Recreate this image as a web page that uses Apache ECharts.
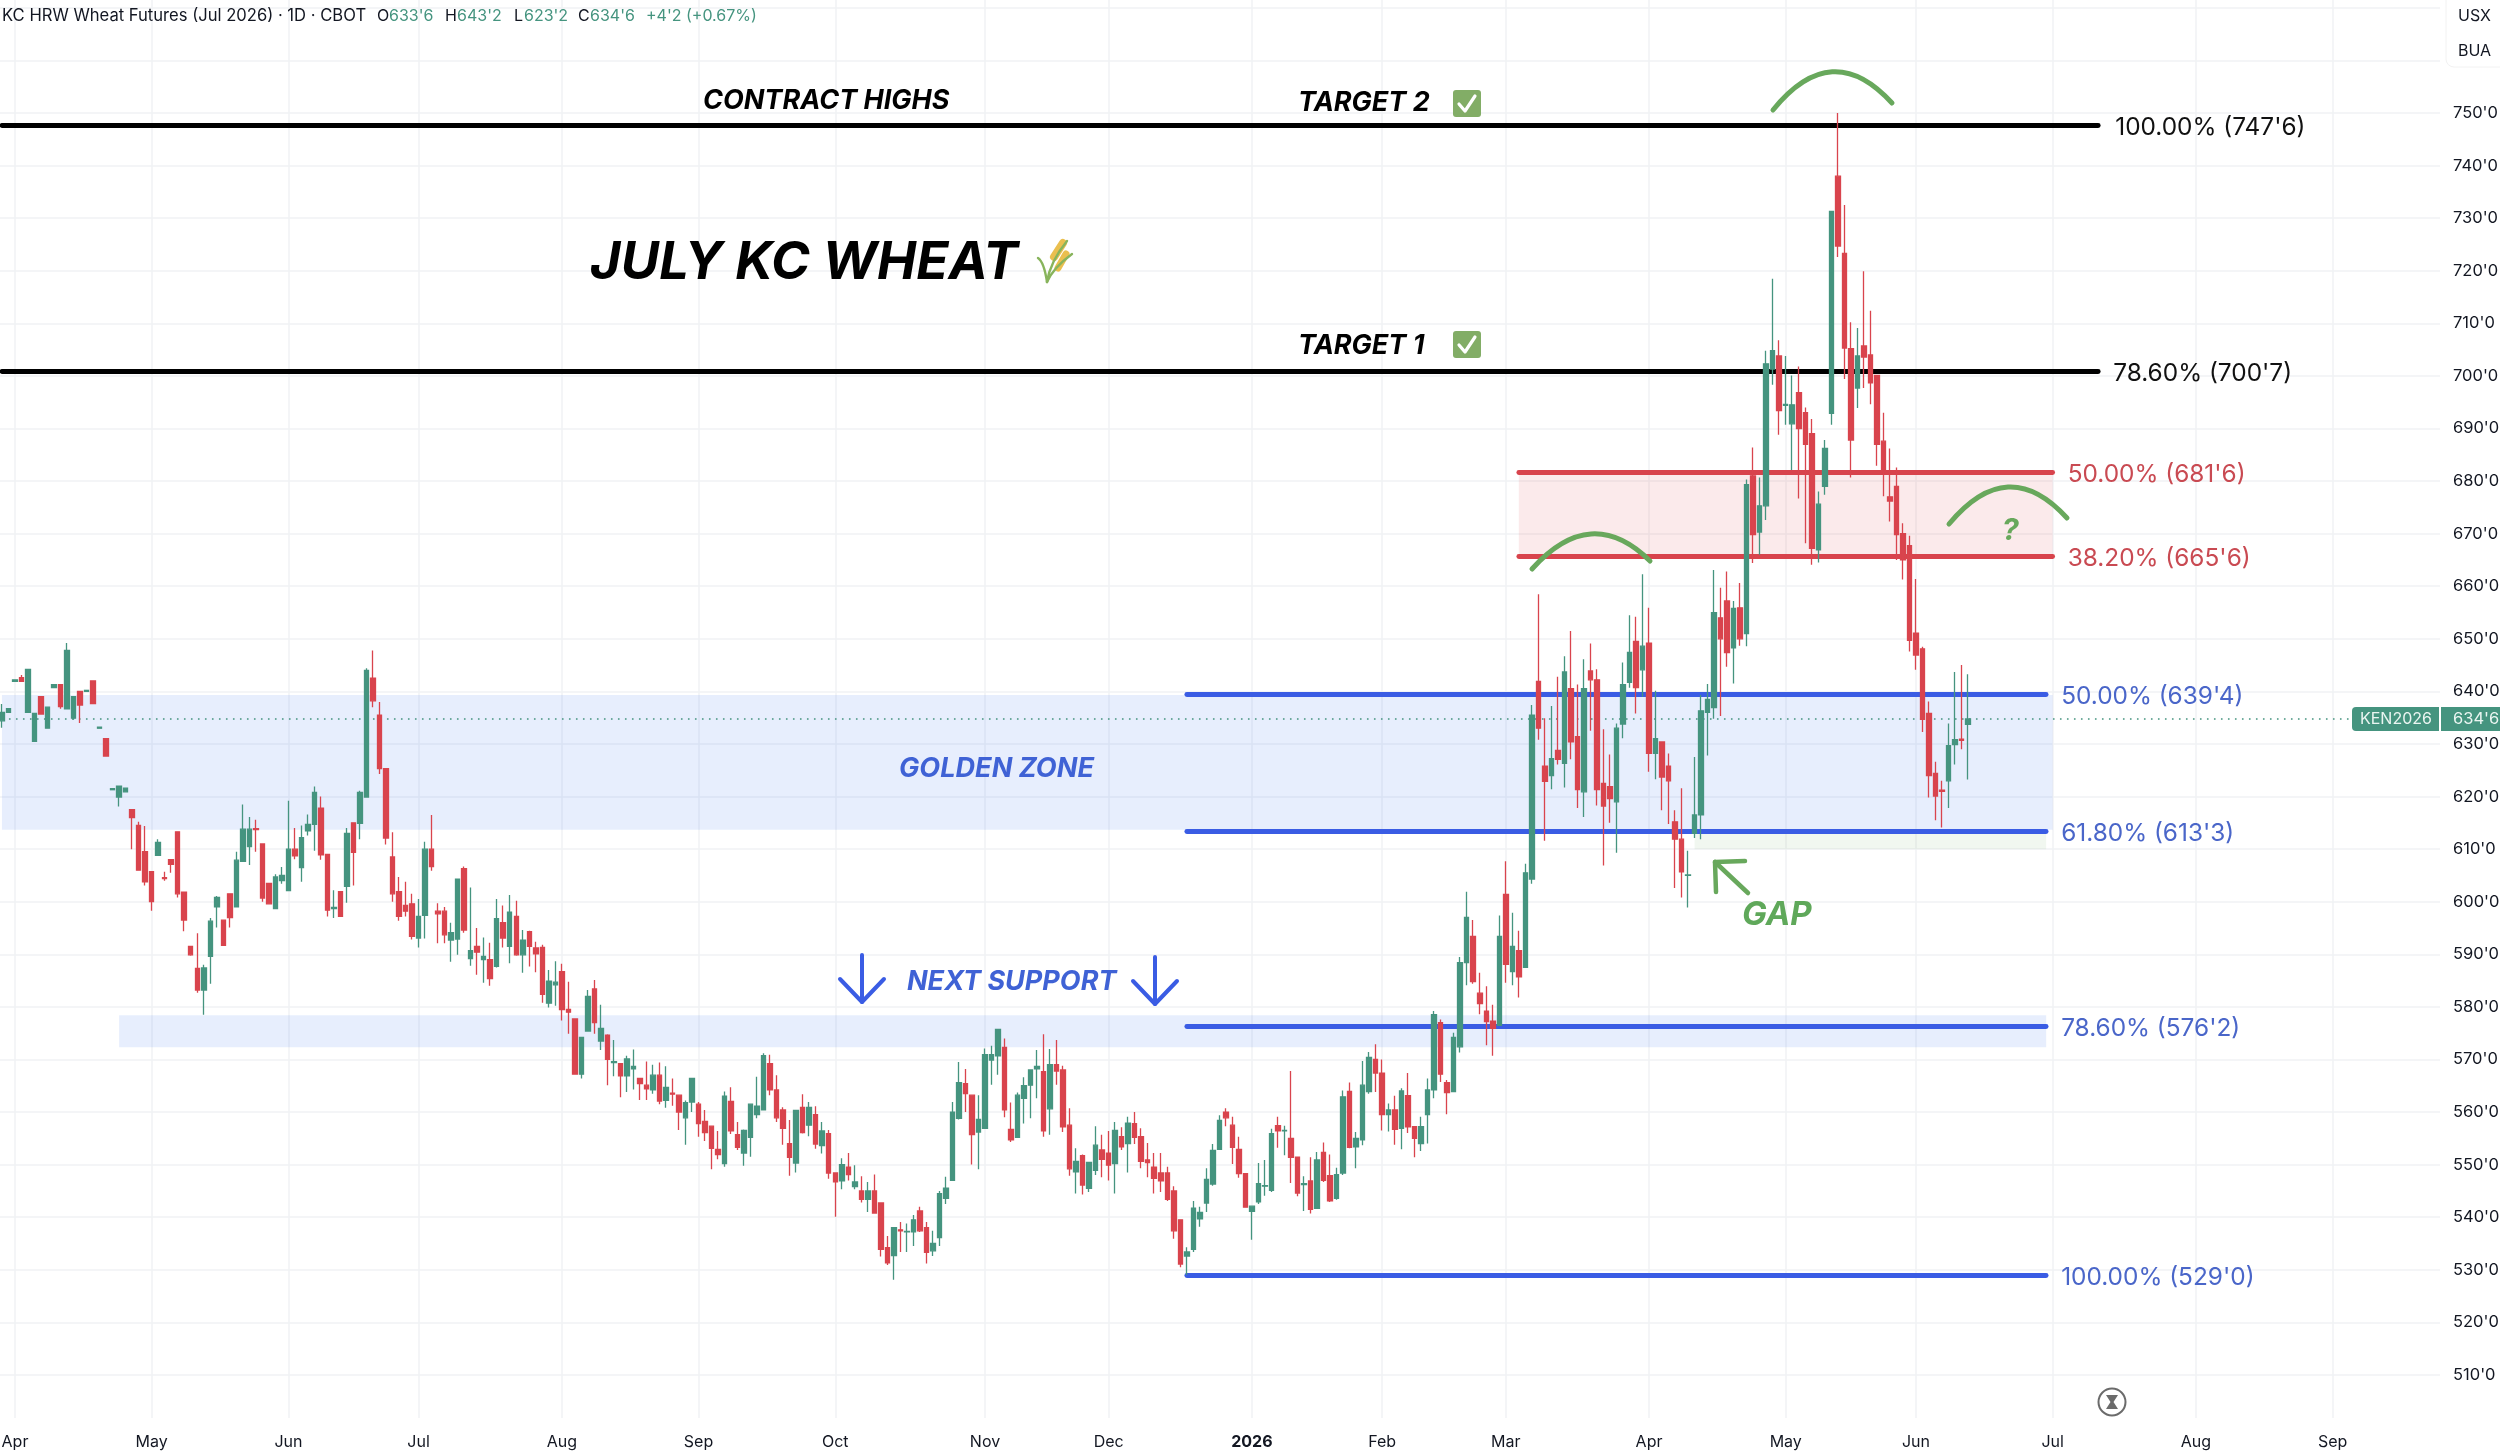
<!DOCTYPE html>
<html><head><meta charset="utf-8"><style>html,body{margin:0;padding:0;background:#fff}#c{width:2500px;height:1452px}</style>
<script src="https://cdn.jsdelivr.net/npm/echarts@6/dist/echarts.min.js"></script></head><body><div id="c"></div><script>
const opens=[634.4,636.0,641.9,642.6,636.0,630.5,639.0,633.0,640.7,641.3,
636.7,634.9,640.0,640.0,642.0,633.0,631.0,621.3,619.9,620.9,
617.5,614.5,609.5,605.7,608.8,604.6,608.0,613.3,601.8,591.5,
587.3,583.2,589.6,599.0,596.5,601.5,599.0,607.7,610.5,613.9,
611.0,603.5,598.7,604.0,602.1,610.0,606.5,613.5,614.7,617.8,
609.0,598.7,601.9,602.9,615.0,614.9,619.9,642.5,635.5,625.3,
608.5,601.9,599.3,599.6,593.1,597.4,610.0,598.2,598.2,592.7,
592.9,606.3,589.2,591.5,589.0,589.0,587.7,596.0,591.5,597.2,
589.9,594.3,591.2,591.3,580.7,584.2,586.7,579.5,577.7,567.2,
575.4,583.4,573.5,574.6,569.4,569.2,566.9,568.2,566.4,565.1,
564.2,567.0,562.2,563.6,563.2,558.9,561.9,561.5,558.2,557.3,
552.9,550.2,562.0,555.7,552.2,555.2,559.5,560.4,569.2,564.2,
560.4,554.0,550.3,560.9,557.5,559.5,553.6,555.9,548.4,546.9,
549.5,545.8,545.0,543.4,545.0,542.7,534.2,532.7,537.6,537.2,
537.2,541.2,538.0,533.6,536.1,543.6,547.0,558.8,565.4,563.2,
556.2,556.9,569.9,570.7,572.3,556.7,555.2,562.6,565.1,568.2,
567.7,560.6,569.0,568.0,557.5,548.6,551.7,545.5,548.9,552.8,
552.2,550.2,555.3,554.0,557.8,555.3,550.9,549.5,548.4,548.4,
545.0,539.5,532.6,533.9,539.7,542.7,546.3,552.9,560.0,557.5,
552.9,548.3,541.1,542.9,545.9,545.1,557.4,556.4,555.0,551.4,
546.2,546.9,541.7,552.3,547.9,543.6,548.4,563.9,553.4,554.7,
563.9,570.0,567.4,559.5,560.4,556.9,563.1,557.2,554.0,559.5,
564.2,577.0,565.6,563.9,572.4,588.4,593.4,582.6,579.2,577.3,
576.5,601.4,586.7,590.7,587.5,604.3,641.9,625.8,624.0,628.8,
626.3,640.5,631.4,620.9,643.9,642.2,622.5,621.9,619.0,633.8,
641.7,649.5,644.1,649.2,628.2,630.4,625.8,615.2,611.9,605.0,
613.0,616.5,636.0,636.9,654.0,657.2,648.3,655.9,651.0,681.0,
670.3,675.3,701.3,703.8,694.4,690.9,696.8,693.0,689.0,666.9,
679.0,692.9,738.0,723.3,705.2,697.7,705.7,704.0,700.1,687.6,
677.0,679.0,670.0,667.7,651.1,648.1,635.8,624.4,621.2,623.0,
629.9,630.9,633.75];
const highs=[637.6,636.7,642.2,643.1,644.2,635.8,639.0,637.0,641.3,641.3,
649.2,639.0,640.0,640.2,642.0,633.2,631.0,621.5,622.0,621.6,
617.5,615.2,614.4,605.7,611.9,605.7,608.0,613.3,601.8,591.5,
594.0,588.0,596.9,601.1,596.5,601.5,609.5,618.5,616.1,615.6,
611.0,603.5,605.2,606.6,619.2,614.0,614.5,616.6,621.9,620.0,
609.0,602.2,601.9,614.0,615.0,621.1,644.4,647.8,638.0,625.3,
613.2,604.7,603.8,601.5,600.5,611.4,616.5,599.7,599.0,596.0,
604.3,606.7,602.7,595.0,593.2,592.2,600.5,599.3,601.3,600.2,
594.6,594.5,592.4,591.8,587.0,588.7,588.2,584.8,577.7,574.2,
583.2,585.1,580.4,574.8,573.7,569.2,570.7,571.9,566.4,569.6,
569.0,569.4,568.7,566.4,563.2,562.2,566.4,561.9,560.4,557.3,
556.4,563.9,564.7,558.1,556.7,561.5,566.7,571.2,570.9,567.0,
560.9,558.5,560.3,563.4,561.9,561.1,558.1,556.6,548.4,551.2,
552.2,549.9,547.8,546.7,548.1,542.7,536.4,538.0,539.1,538.8,
540.4,542.0,539.1,537.4,545.0,547.7,561.9,569.5,568.2,563.2,
563.2,572.1,572.6,575.7,574.0,561.8,563.7,566.6,568.0,571.8,
574.8,572.0,573.7,568.8,560.7,553.1,551.9,550.4,557.3,555.7,
556.4,558.1,557.1,559.1,560.0,556.9,554.1,552.2,552.2,549.6,
545.9,539.5,534.3,543.1,542.0,549.3,553.9,559.4,560.7,559.1,
555.3,548.3,542.1,550.3,550.9,556.8,559.1,557.4,567.8,551.4,
547.8,551.4,552.4,554.2,551.9,549.4,564.1,565.6,556.2,569.7,
571.4,572.9,570.0,561.6,563.1,564.5,567.4,557.2,559.1,566.4,
579.2,577.6,566.1,575.1,589.5,601.9,596.5,586.5,583.9,580.4,
597.4,607.7,597.9,594.5,607.2,637.4,658.5,634.9,637.2,642.8,
646.7,651.5,641.3,646.1,649.1,644.2,632.8,628.0,633.9,645.5,
654.5,654.2,662.3,655.9,640.1,630.4,628.2,617.4,621.6,609.7,
627.5,639.3,641.4,663.1,659.7,662.8,657.2,660.6,680.3,686.4,
680.7,704.8,718.5,706.8,703.8,700.1,701.8,694.0,691.8,678.0,
687.8,731.3,750.0,732.5,710.2,709.1,719.9,712.4,700.1,693.0,
686.2,682.6,672.0,669.6,661.4,648.5,638.1,626.6,623.0,633.9,
643.7,645.0,643.25];
const lows=[633.1,636.0,641.9,641.9,636.0,630.5,635.7,633.0,640.7,636.7,
636.7,634.6,634.0,640.0,637.7,633.0,627.7,621.3,618.1,620.9,
610.0,606.0,603.1,598.3,608.8,604.0,605.5,600.8,594.4,589.7,
582.7,578.5,584.4,595.1,591.7,595.1,599.0,607.7,607.0,609.5,
600.0,599.6,598.7,603.4,602.1,608.1,603.8,612.6,609.7,608.0,
597.2,596.9,597.2,599.8,603.1,611.9,619.9,637.0,624.3,610.9,
600.0,596.4,597.2,592.8,591.3,593.0,605.9,592.1,592.1,588.6,
589.9,594.1,587.8,586.1,584.6,584.0,587.5,591.3,588.3,589.7,
586.5,587.7,586.6,580.8,579.9,580.2,577.4,574.9,567.2,566.4,
575.4,574.9,571.8,565.1,566.8,562.8,563.8,564.3,562.3,562.3,
563.5,561.5,560.8,561.2,556.6,553.8,560.0,555.3,554.5,549.1,
551.0,549.6,555.8,552.8,549.8,551.5,558.8,560.4,563.2,558.1,
553.8,547.9,548.5,555.9,555.4,553.0,552.1,547.3,540.1,545.3,
547.0,545.3,542.8,541.0,540.7,532.5,530.9,528.1,533.4,533.4,
534.5,537.2,531.2,532.6,534.5,542.5,547.0,558.6,560.0,550.0,
549.1,556.9,565.2,567.1,559.0,554.3,555.2,557.8,558.8,562.6,
555.3,555.7,565.2,556.2,547.9,544.5,544.3,544.8,548.0,547.6,
547.0,544.5,552.8,548.5,553.9,549.3,547.6,544.5,544.8,543.1,
535.9,530.5,529.0,533.4,538.2,541.0,546.0,552.9,557.3,550.1,
547.5,541.8,535.7,542.5,544.1,544.8,553.2,551.8,546.5,544.0,
541.2,540.7,541.7,546.7,542.9,543.3,548.0,553.1,549.3,553.7,
563.5,563.8,556.5,556.3,553.8,552.9,556.0,551.4,552.6,554.0,
562.6,565.7,559.6,563.9,571.3,584.1,584.4,578.6,572.7,570.7,
576.5,584.6,584.1,581.8,587.4,603.4,630.8,611.6,621.4,626.1,
621.7,627.1,617.8,616.1,632.5,618.3,606.9,615.0,609.3,631.1,
640.7,635.8,639.0,624.7,623.3,617.4,614.8,602.6,600.8,598.9,
612.1,611.9,627.8,634.8,635.3,644.7,641.5,648.7,648.6,664.4,
666.0,672.6,698.3,688.8,690.7,682.1,676.7,668.2,664.1,664.5,
677.4,690.7,722.6,699.4,680.7,693.9,697.7,694.6,682.9,677.1,
672.3,665.0,661.3,647.6,644.1,632.3,619.8,615.5,614.1,617.8,
626.1,629.0,623.25];
const closes=[636.0,636.7,642.2,641.9,644.2,635.8,635.7,637.0,641.3,637.1,
647.8,639.0,637.4,640.2,637.7,633.2,627.7,621.5,622.0,621.6,
616.0,606.0,603.8,600.0,611.3,604.4,607.1,601.5,596.5,589.9,
583.2,587.4,596.3,600.8,591.7,597.0,607.9,613.8,613.8,613.7,
600.7,599.6,604.7,605.0,610.0,608.7,612.2,614.7,620.8,608.9,
598.4,598.9,597.2,613.0,609.4,620.8,644.0,638.2,625.3,612.1,
601.5,597.2,598.2,593.4,597.2,610.0,606.7,597.7,593.7,594.1,
604.3,594.6,590.7,590.4,589.6,585.4,596.8,593.1,598.0,589.9,
592.7,591.5,590.1,582.4,584.9,584.7,579.5,579.0,567.2,574.2,
582.0,577.0,575.9,570.0,569.6,566.9,570.1,568.7,565.4,564.4,
567.0,562.1,564.7,563.4,560.0,561.8,566.4,557.8,556.1,553.1,
551.9,563.0,556.4,553.3,556.5,561.5,561.1,570.7,564.2,558.9,
556.9,551.4,560.3,556.1,560.9,553.9,556.4,548.4,546.7,550.0,
548.1,546.7,543.4,545.0,540.8,533.9,531.3,538.0,537.4,537.3,
539.5,537.4,533.3,535.0,544.5,545.5,560.0,565.6,563.5,555.7,
558.6,570.9,570.9,575.7,560.4,554.7,563.2,565.0,568.0,568.7,
556.4,569.0,567.8,557.2,549.2,550.6,546.1,550.4,553.7,551.0,
549.9,556.5,553.4,557.9,555.2,550.6,550.4,547.4,546.9,543.4,
537.4,531.1,533.4,541.7,540.9,547.2,552.7,558.4,558.9,553.3,
548.3,541.9,542.1,546.4,546.0,555.9,556.4,556.5,551.4,544.6,
546.4,541.5,550.9,547.0,543.1,548.1,562.9,553.3,555.0,565.1,
570.4,567.4,559.5,560.4,556.7,564.0,557.2,555.0,557.2,564.2,
578.5,567.2,563.7,574.2,588.4,597.0,584.8,580.6,577.2,575.9,
593.4,588.1,591.5,585.7,605.5,635.5,633.0,622.9,627.2,627.1,
643.7,630.4,621.3,640.5,642.2,621.3,618.2,619.6,633.0,641.3,
647.4,640.7,648.6,628.2,631.0,623.7,623.0,611.9,605.7,605.1,
616.5,636.3,638.5,655.0,650.0,647.4,655.8,650.0,679.3,669.8,
675.3,702.3,704.8,693.4,694.6,694.5,690.0,687.0,667.2,675.6,
686.2,731.3,724.7,705.3,687.8,703.8,703.6,698.7,687.0,681.8,
676.2,669.8,665.0,649.7,646.9,634.7,624.0,620.1,621.0,629.7,
630.8,630.7,634.75];

const monthTickIndex=[2,23,44,64,86,107,128,151,170,192,212,231,253,274,294,315,337,358];
const monthTickLabels=['Apr','May','Jun','Jul','Aug','Sep','Oct','Nov','Dec','2026','Feb','Mar','Apr','May','Jun','Jul','Aug','Sep'];
const totalBars=375;

const levelValues=[747.75,700.875,681.75,665.75,639.5,613.375,576.25,529];
const levelLabels=["100.00% (747'6)","78.60% (700'7)","50.00% (681'6)","38.20% (665'6)","50.00% (639'4)","61.80% (613'3)","78.60% (576'2)","100.00% (529'0)"];
const lastPrice=634.75;

const GREEN='#45947f',RED='#d9444d',BLUE='#3a5ce4',ARC='#68a85c',FONT='Inter, "Noto Sans", sans-serif';
const levelStyle=[
 {c:'#000',t:'#111',from:0,to:322,d:17},{c:'#000',t:'#111',from:0,to:322,d:15},
 {c:'#d8434c',t:'#c94a52',from:233,to:315,d:15},{c:'#d8434c',t:'#c94a52',from:233,to:315,d:15},
 {c:BLUE,t:'#4a66c9',from:182,to:314,d:15},{c:BLUE,t:'#4a66c9',from:182,to:314,d:15},{c:BLUE,t:'#4a66c9',from:182,to:314,d:15},{c:BLUE,t:'#4a66c9',from:182,to:314,d:15}];

const lineData=levelValues.map((v,i)=>{const s=levelStyle[i];return [
 {xAxis:s.from,yAxis:v,lineStyle:{color:s.c,width:4.8,type:'solid',cap:'round'},
  label:{show:true,position:'end',distance:s.d,formatter:levelLabels[i],color:s.t,fontSize:24.4,fontFamily:FONT,offset:[0,2.5]}},
 {xAxis:s.to,yAxis:v}];});
lineData.unshift([{xAxis:0,yAxis:lastPrice,lineStyle:{color:GREEN,width:1.6,type:[1.6,5.4]},label:{show:false}},{xAxis:361,yAxis:lastPrice}]);

const T=(text,x,y,size,color,extra)=>({type:'text',z:30,style:Object.assign({text,x,y,fontSize:size,fill:color,fontFamily:FONT,fontWeight:'bold',fontStyle:'italic',textVerticalAlign:'middle',textBaseline:'middle'},extra||{})});
const poly=(pts,color,w)=>({type:'polyline',z:30,shape:{points:pts},style:{stroke:color,lineWidth:w,lineCap:'round',lineJoin:'round',fill:null}});
const arc=(x1,y1,cx,cy,x2,y2,color,w)=>({type:'bezierCurve',z:30,shape:{x1,y1,x2,y2,cpx1:cx,cpy1:cy},style:{stroke:color,lineWidth:w,lineCap:'round',fill:null}});
const check=(x,y)=>[
 {type:'rect',z:30,shape:{x,y,width:28,height:27,r:3},style:{fill:'#82ad66'}},
 poly([[x+6,y+14],[x+12,y+21],[x+22,y+6]],'#fff',3.2)];
const plain=(text,x,y,size,color,extra)=>T(text,x,y,size,color,Object.assign({fontWeight:'normal',fontStyle:'normal'},extra||{}));

const graphics=[
 {type:'rect',z:20,shape:{x:0,y:1418,width:2441,height:10},style:{fill:'#fff'}},
 {type:'rect',z:20,shape:{x:2446,y:-8,width:70,height:75,r:8},style:{fill:'#fff',stroke:'#f2f2f2',lineWidth:1}},
 plain('USX',2458,16,16,'#131722'),plain('BUA',2458,51,16,'#131722'),
 plain('KC HRW Wheat Futures (Jul 2026) · 1D · CBOT',2,16,16.6,'#131722'),
 plain('O',377,16,16,'#131722'),plain("633'6",389,16,16,GREEN),
 plain('H',445,16,16,'#131722'),plain("643'2",457,16,16,GREEN),
 plain('L',514,16,16,'#131722'),plain("623'2",524,16,16,GREEN),
 plain('C',578,16,16,'#131722'),plain("634'6",590,16,16,GREEN),
 plain("+4'2 (+0.67%)",646,16,16,GREEN),
 T('CONTRACT HIGHS',703,101,27,'#000'),
 T('TARGET 2',1298,103,27,'#000'),T('TARGET 1',1298,346,27,'#000'),
 ...check(1453,90),...check(1453,331),
 T('JULY KC WHEAT',590,263,52.6,'#000'),
 T('GOLDEN ZONE',899,769,27.1,'#3f62d5'),
 T('NEXT SUPPORT',907,982,27,'#3f62d5'),
 T('GAP',1742,915,33,'#5fa85a'),
 T('?',2002,531,30,'#68a85c'),
 poly([[862,955],[862,1002]],BLUE,4),poly([[840,979],[862,1002],[884,979]],BLUE,4),
 poly([[1155,957],[1155,1004]],BLUE,4),poly([[1133,981],[1155,1004],[1177,981]],BLUE,4),
 poly([[1715,862],[1748,893]],ARC,4.5),poly([[1745,861],[1715,862],[1716,892]],ARC,4.5),
 arc(1773,110,1832,37,1892,103,ARC,5),
 arc(1532,569,1591,503,1650,561,ARC,5),
 arc(1949,524,2008,453,2067,518,ARC,5),
 // wheat ornament
 poly([[1054,257],[1063,243]],'#eabf4f',8),poly([[1058,268],[1066,254]],'#eabf4f',7),
 arc(1047,282,1050,262,1067,241,'#88b45c',2.4),arc(1047,282,1053,268,1072,254,'#88b45c',2.4),arc(1047,282,1044,262,1038,258,'#88b45c',2.4),
 // hourglass
 {type:'circle',z:30,shape:{cx:2112,cy:1402,r:13.5},style:{fill:'#fff',stroke:'#6b6b6b',lineWidth:2}},
 {type:'polygon',z:31,shape:{points:[[2106,1395],[2118,1395],[2113.5,1402],[2118,1409],[2106,1409],[2110.5,1402]]},style:{fill:'#6b6b6b'}},
 // last price tags
 {type:'rect',z:30,shape:{x:2352,y:707,width:87,height:24,r:[4,0,0,4]},style:{fill:GREEN}},
 {type:'rect',z:30,shape:{x:2441,y:707,width:59,height:24},style:{fill:GREEN}},
 plain('KEN2026',2360,719,16,'#eaf5f1',{letterSpacing:0.5}),plain("634'6",2453,719,16.5,'#eaf5f1')
];

const chart=echarts.init(document.getElementById('c'),null,{renderer:'canvas'});
chart.setOption({
 animation:false,backgroundColor:'#fff',
 grid:{left:-1.3,right:60,top:-44.7,height:1472.2,containLabel:false,outerBoundsMode:'none'},
 xAxis:{type:'category',data:Array.from({length:totalBars},(_,i)=>String(i)),boundaryGap:true,
  axisLine:{show:false},axisTick:{show:false},
  axisLabel:{interval:(i)=>monthTickIndex.includes(i),formatter:(v)=>{const k=monthTickIndex.indexOf(+v);const s=k<0?'':monthTickLabels[k];return s==='2026'?'{b|2026}':s;},
   margin:7,fontSize:16,color:'#131722',fontFamily:FONT,hideOverlap:false,rich:{b:{fontWeight:'bold',fontSize:16,fontFamily:FONT,color:'#131722'}}},
  splitLine:{show:true,alignWithLabel:true,interval:(i)=>monthTickIndex.includes(i),lineStyle:{color:'#f1f2f4',width:1.5}}},
 yAxis:{type:'value',position:'right',min:500,max:780,interval:10,
  axisLine:{show:false},axisTick:{show:false},
  axisLabel:{margin:13,fontSize:16.5,color:'#131722',fontFamily:FONT,formatter:(v)=>(v<510||v>750)?'':v+"'0"},
  splitLine:{show:true,showMinLine:false,lineStyle:{color:'#f1f2f4',width:1.5}}},
 series:[{type:'candlestick',z:3,barWidth:5,clip:false,
  data:opens.map((o,i)=>[o,closes[i],lows[i],highs[i]]),
  itemStyle:{color:GREEN,color0:RED,borderColor:GREEN,borderColor0:RED,borderWidth:1.3},
  markArea:{silent:true,z:0,itemStyle:{color:'rgba(45,105,235,0.115)'},label:{show:false},data:[
    [{xAxis:0,yAxis:639.3},{xAxis:315,yAxis:613.7}],
    [{xAxis:18,yAxis:578.4},{xAxis:314,yAxis:572.3}],
    [{xAxis:233,yAxis:681.75,itemStyle:{color:'rgba(217,68,77,0.11)'}},{xAxis:315,yAxis:665.75}],
    [{xAxis:260,yAxis:612.9,itemStyle:{color:'rgba(104,168,92,0.09)'}},{xAxis:314,yAxis:610}]
  ]},
  markLine:{silent:true,z:1,symbol:['none','none'],precision:3,data:lineData}
 }],
 graphic:{elements:graphics}
});
</script></body></html>
